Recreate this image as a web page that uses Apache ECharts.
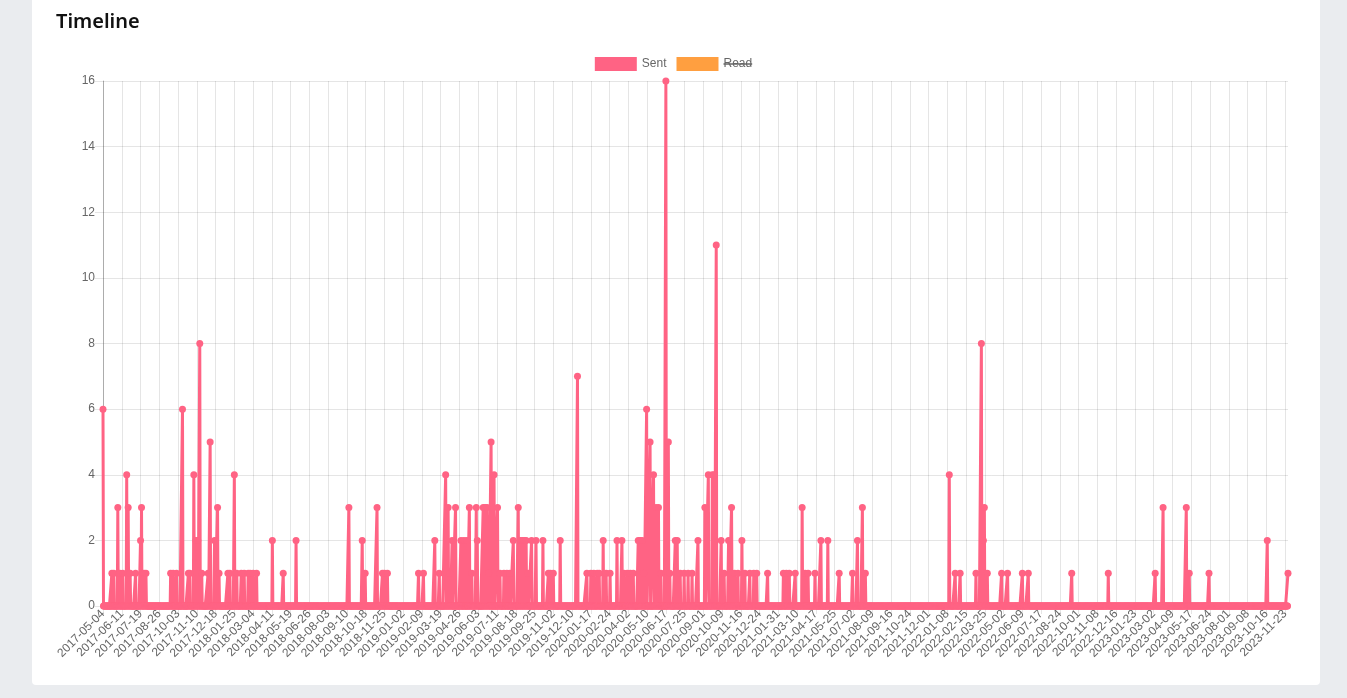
<!DOCTYPE html>
<html lang="en">
<head>
    <meta charset="UTF-8" />
    <title>Timeline</title>
    <script src="https://cdn.jsdelivr.net/npm/echarts@6.0.0/dist/echarts.min.js"></script>
    <style>
        html, body { margin: 0; padding: 0; background: #eaecef; overflow: hidden; }
        .card { position: absolute; left: 32px; top: -10px; width: 1288px; height: 695px; background: #fff; border-radius: 4px; }
        #main { position: absolute; left: 0; top: 0; width: 1347px; height: 698px; }
    </style>
</head>
<body>
    <div class="card"></div>
    <div id="main"></div>
    <script>
        // first and last day on the axis
        var startDate = "2017-05-04";
        var endDate = "2023-11-29";

        // days with sent messages (every other day is 0)
        var sentDates = [
            "2017-05-04", "2017-05-22", "2017-05-26", "2017-06-03", "2017-06-07", "2017-06-13", "2017-06-21", "2017-06-24",
            "2017-06-28", "2017-07-09", "2017-07-19", "2017-07-21", "2017-07-26", "2017-07-30", "2017-09-18", "2017-09-23",
            "2017-09-30", "2017-10-12", "2017-10-24", "2017-10-27", "2017-11-04", "2017-11-08", "2017-11-12", "2017-11-16",
            "2017-11-20", "2017-12-03", "2017-12-07", "2017-12-16", "2017-12-22", "2017-12-25", "2018-01-12", "2018-01-16",
            "2018-01-25", "2018-01-30", "2018-02-08", "2018-02-14", "2018-02-22", "2018-02-26", "2018-03-04", "2018-03-11",
            "2018-04-12", "2018-05-04", "2018-05-30", "2018-09-14", "2018-10-11", "2018-10-17", "2018-11-10", "2018-11-21",
            "2018-11-25", "2018-12-01", "2019-02-02", "2019-02-12", "2019-03-07", "2019-03-16", "2019-03-29", "2019-04-03",
            "2019-04-07", "2019-04-11", "2019-04-18", "2019-04-29", "2019-05-05", "2019-05-11", "2019-05-16", "2019-05-21",
            "2019-05-30", "2019-06-01", "2019-06-13", "2019-06-17", "2019-06-21", "2019-06-24", "2019-06-29", "2019-07-05",
            "2019-07-12", "2019-07-17", "2019-07-25", "2019-07-31", "2019-08-06", "2019-08-13", "2019-08-23", "2019-08-27",
            "2019-08-31", "2019-09-04", "2019-09-08", "2019-09-12", "2019-09-19", "2019-09-28", "2019-10-12", "2019-10-23",
            "2019-10-27", "2019-11-02", "2019-11-16", "2019-12-21", "2020-01-09", "2020-01-17", "2020-01-23", "2020-01-30",
            "2020-02-03", "2020-02-11", "2020-02-17", "2020-02-25", "2020-03-10", "2020-03-20", "2020-03-24", "2020-03-31",
            "2020-04-06", "2020-04-12", "2020-04-22", "2020-04-26", "2020-04-30", "2020-05-03", "2020-05-09", "2020-05-16",
            "2020-05-23", "2020-05-28", "2020-06-02", "2020-06-07", "2020-06-17", "2020-06-22", "2020-06-25", "2020-07-06",
            "2020-07-10", "2020-07-16", "2020-07-24", "2020-08-01", "2020-08-09", "2020-08-21", "2020-09-04", "2020-09-11",
            "2020-09-19", "2020-09-23", "2020-09-27", "2020-10-07", "2020-10-13", "2020-10-22", "2020-10-28", "2020-11-03",
            "2020-11-10", "2020-11-18", "2020-11-24", "2020-12-04", "2020-12-12", "2020-12-18", "2021-01-09", "2021-02-10",
            "2021-02-16", "2021-02-22", "2021-03-06", "2021-03-20", "2021-03-26", "2021-04-01", "2021-04-15", "2021-04-27",
            "2021-05-11", "2021-06-03", "2021-06-30", "2021-07-10", "2021-07-20", "2021-07-26", "2022-01-12", "2022-01-24",
            "2022-02-03", "2022-03-07", "2022-03-18", "2022-03-22", "2022-03-24", "2022-03-30", "2022-04-28", "2022-05-10",
            "2022-06-09", "2022-06-21", "2022-09-17", "2022-11-30", "2023-03-05", "2023-03-21", "2023-05-07", "2023-05-13",
            "2023-06-22", "2023-10-18", "2023-11-29"
        ];
        var sentCounts = [
            6, 1, 1, 3, 1, 1, 4, 3,
            1, 1, 2, 3, 1, 1, 1, 1,
            1, 6, 1, 1, 4, 2, 2, 8,
            1, 1, 5, 2, 3, 1, 1, 1,
            4, 1, 1, 1, 1, 1, 1, 1,
            2, 1, 2, 3, 2, 1, 3, 1,
            1, 1, 1, 1, 2, 1, 4, 3,
            1, 2, 3, 2, 2, 2, 3, 1,
            3, 2, 3, 3, 3, 1, 5, 4,
            3, 1, 1, 1, 1, 2, 3, 2,
            2, 2, 2, 1, 2, 2, 2, 1,
            1, 1, 2, 7, 1, 1, 1, 1,
            1, 2, 1, 1, 2, 2, 1, 1,
            1, 1, 2, 2, 2, 1, 6, 5,
            4, 3, 3, 1, 16, 5, 1, 2,
            2, 1, 1, 1, 1, 2, 3, 4,
            4, 4, 11, 2, 1, 2, 3, 1,
            1, 2, 1, 1, 1, 1, 1, 1,
            1, 1, 1, 3, 1, 1, 1, 2,
            2, 1, 1, 2, 3, 1, 4, 1,
            1, 1, 8, 2, 3, 1, 1, 1,
            1, 1, 1, 1, 1, 3, 3, 1,
            1, 2, 1
        ];
        // "Read" is switched off in the legend, its values are not shown
        var readCounts = [];

        // one category per day, days without messages get 0
        var days = [];
        var sent = [];
        var byDate = {};
        sentDates.forEach(function (d, i) { byDate[d] = sentCounts[i]; });
        var t = Date.parse(startDate + "T00:00:00Z");
        var tEnd = Date.parse(endDate + "T00:00:00Z");
        while (t <= tEnd) {
            var s = new Date(t).toISOString().slice(0, 10);
            days.push(s);
            sent.push(byDate[s] || 0);
            t += 86400000;
        }

        var chart = echarts.init(document.getElementById('main'));
        var labelFont = "'Helvetica Neue', Helvetica, Arial, 'Liberation Sans', sans-serif";

        var option = {
            animation: false,
            title: {
                text: "Timeline",
                left: 51,
                top: 7,
                textStyle: { fontFamily: "'Noto Sans', sans-serif", fontSize: 20, fontWeight: 600, color: "#111" }
            },
            legend: {
                top: 52,
                left: 'center',
                itemWidth: 42,
                itemHeight: 14,
                itemGap: 10,
                icon: 'rect',
                textStyle: { color: '#666', fontSize: 12, fontFamily: labelFont },
                data: ['Sent', 'Read']
            },
            grid: { left: 103, right: 59, top: 81, bottom: 92 },
            xAxis: {
                type: 'category',
                data: days,
                boundaryGap: false,
                axisLine: { lineStyle: { color: 'rgba(0,0,0,0.25)' } },
                axisTick: { interval: 37, length: 8, lineStyle: { color: 'rgba(0,0,0,0.1)' } },
                axisLabel: { interval: 37, rotate: 45, color: '#666', fontSize: 12, fontFamily: labelFont, margin: 6 },
                splitLine: { show: true, interval: 37, lineStyle: { color: 'rgba(0,0,0,0.1)' } }
            },
            yAxis: {
                type: 'value',
                min: 0,
                max: 16,
                interval: 2,
                axisLine: { show: true, lineStyle: { color: 'rgba(0,0,0,0.25)' } },
                axisTick: { show: true, length: 8, lineStyle: { color: 'rgba(0,0,0,0.1)' } },
                axisLabel: { color: '#666', fontSize: 12, fontFamily: labelFont, margin: 8 },
                splitLine: { lineStyle: { color: 'rgba(0,0,0,0.1)' } }
            },
            series: [
                {
                    name: 'Sent',
                    type: 'line',
                    data: sent,
                    showAllSymbol: true,
                    symbol: 'circle',
                    symbolSize: 7,
                    color: '#ff6384',
                    lineStyle: { width: 3, color: '#ff6384' },
                    itemStyle: { color: '#ff6384' }
                },
                {
                    name: 'Read',
                    type: 'line',
                    data: readCounts,
                    color: '#ff9f40',
                    itemStyle: { color: '#ff9f40' }
                }
            ],
            graphic: []
        };

        chart.setOption(option);

        // strike through the "Read" legend text like a hidden dataset
        var legendView = null;
        chart._componentsViews.forEach(function (v) { if (v.type === 'legend.plain') legendView = v; });
        if (legendView) {
            var items = legendView.getContentGroup().children();
            var it = items[1];
            if (it) {
                var r = it.getBoundingRect();
                var g = legendView.group;
                var cx = g.x + legendView.getContentGroup().x + it.x;
                var cy = g.y + legendView.getContentGroup().y + it.y;
                chart.setOption({
                    graphic: [{
                        type: 'line',
                        shape: { x1: cx + 47, y1: cy + r.y + r.height / 2, x2: cx + r.x + r.width, y2: cy + r.y + r.height / 2 },
                        style: { stroke: '#666', lineWidth: 1.5 },
                        silent: true
                    }]
                });
            }
        }
    </script>
</body>
</html>
